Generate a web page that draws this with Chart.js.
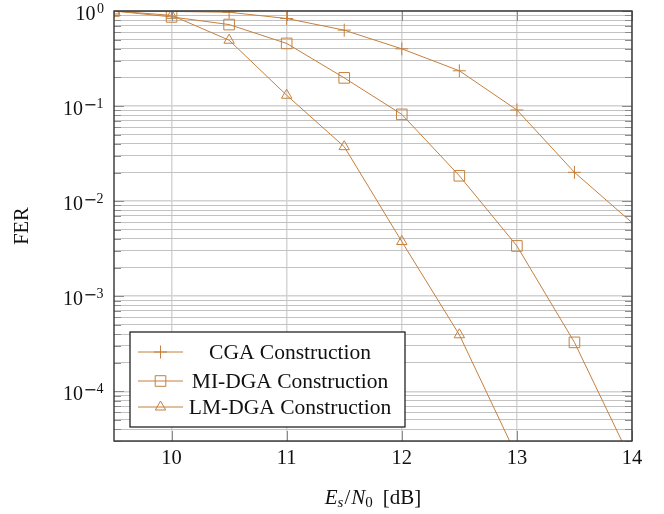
<!DOCTYPE html>
<html><head><meta charset="utf-8">
<script src="https://cdn.jsdelivr.net/npm/chart.js@4/dist/chart.umd.min.js"></script>
<style>html,body{margin:0;padding:0;background:#fff}#wrap{width:664px;height:514px}</style>
</head><body><div id="wrap"><canvas id="c" width="664" height="514"></canvas></div>
<script>
// ---- data ----
const snr = [9.5, 10, 10.5, 11, 11.5, 12, 12.5, 13, 13.5, 14];
const cga = [1.0, 0.99, 0.97, 0.834, 0.629, 0.40, 0.235, 0.091, 0.0201, 0.00594];
const miDga = [1.0, 0.867, 0.72, 0.456, 0.198, 0.0818, 0.0185, 0.00338, 0.000327, 0.000018];
const lmDga = [1.0, 0.90, 0.493, 0.13, 0.0374, 0.00376, 0.000393, 0.0000207];
const seriesLabels = ['CGA Construction', 'MI-DGA Construction', 'LM-DGA Construction'];
const xTicks = [10, 11, 12, 13, 14];
const yDecades = [1, 1e-1, 1e-2, 1e-3, 1e-4];
const yExponents = [0, -1, -2, -3, -4, -5];
const yMantissas = [1, 2, 3, 4, 5, 6, 7, 8, 9];
const yTickBase = '10';
const yTickSign = ['', '\u2212', '\u2212', '\u2212', '\u2212'];
const yTickDigit = ['0', '1', '2', '3', '4'];
const xTitleParts = ['E', 's', '/', 'N', '0', '[dB]'];
const yTitle = 'FER';

const COL = '#c4803e';
const FONT = '"Liberation Serif", "Times New Roman", serif';
const TXT = '#111';
const Y_MIN = 3e-5, Y_MAX = 1;

function pts(ys) { return ys.map((y, i) => ({ x: snr[i], y: y })); }
function isDecade(v) { const l = Math.log10(v); return Math.abs(l - Math.round(l)) < 1e-6; }
function logTicks() {
  const out = [];
  yExponents.forEach(e => yMantissas.forEach(m => {
    const v = m * Math.pow(10, e);
    if (v >= Y_MIN * 0.999 && v <= Y_MAX * 1.001) out.push({ value: v, major: m === 1 });
  }));
  return out.sort((a, b) => a.value - b.value);
}

const frame = {
  id: 'frame',
  afterDatasetsDraw(chart) {
    const { ctx, chartArea: a, scales } = chart;
    const ys = scales.y, xs = scales.x;
    ctx.save();
    ctx.strokeStyle = '#8c8c8c';
    ctx.lineWidth = 1;
    ctx.beginPath();
    ys.ticks.forEach(t => {
      const y = Math.round(ys.getPixelForValue(t.value)) + 0.5;
      const len = isDecade(t.value) ? 10 : 7;
      ctx.moveTo(a.left, y); ctx.lineTo(a.left + len, y);
      ctx.moveTo(a.right, y); ctx.lineTo(a.right - len, y);
    });
    xTicks.forEach(v => {
      const x = Math.round(xs.getPixelForValue(v)) + 0.5;
      ctx.moveTo(x, a.bottom); ctx.lineTo(x, a.bottom - 10);
      ctx.moveTo(x, a.top); ctx.lineTo(x, a.top + 10);
    });
    ctx.stroke();
    ctx.strokeStyle = '#333';
    ctx.lineWidth = 1.4;
    ctx.strokeRect(a.left, a.top, a.right - a.left, a.bottom - a.top);
    ctx.restore();
  },
  afterDraw(chart) {
    const { ctx, chartArea: a, scales } = chart;
    const ys = scales.y;
    ctx.save();
    ctx.fillStyle = TXT;
    const fBase = '20px ' + FONT, fSign = '16px "DejaVu Sans", sans-serif', fDig = '14px ' + FONT;
    yDecades.forEach((v, i) => {
      const y = ys.getPixelForValue(v);
      ctx.font = fDig; const wd = ctx.measureText(yTickDigit[i]).width;
      ctx.font = fSign; const ws = yTickSign[i] ? ctx.measureText(yTickSign[i]).width : 0;
      ctx.font = fBase; const wb = ctx.measureText(yTickBase).width;
      const gap = yTickSign[i] ? 0.5 : 1.5;
      const right = a.left - 10;
      let x = right - wd - ws - wb - gap;
      ctx.textAlign = 'left';
      ctx.textBaseline = 'alphabetic';
      ctx.fillText(yTickBase, x, y + 8.8);
      x += wb + gap;
      if (yTickSign[i]) { ctx.font = fSign; ctx.fillText(yTickSign[i], x, y + 3.5); x += ws - 0.5; }
      ctx.font = fDig;
      ctx.fillText(yTickDigit[i], x, y + 1.7);
    });
    const parts = [
      { t: xTitleParts[0], f: 'italic 21px ' + FONT, dy: 0, gap: 0 },
      { t: xTitleParts[1], f: 'italic 15px ' + FONT, dy: 3, gap: 1 },
      { t: xTitleParts[2], f: '21px ' + FONT, dy: 0, gap: 1 },
      { t: xTitleParts[3], f: 'italic 21px ' + FONT, dy: 0, gap: 0 },
      { t: xTitleParts[4], f: '15px ' + FONT, dy: 3, gap: 10 },
      { t: xTitleParts[5], f: '21px ' + FONT, dy: 0, gap: 0 }
    ];
    let total = 0;
    parts.forEach(p => { ctx.font = p.f; p.w = ctx.measureText(p.t).width; total += p.w + p.gap; });
    let x = (a.left + a.right) / 2 - total / 2;
    const base = 504;
    ctx.textAlign = 'left'; ctx.textBaseline = 'alphabetic';
    parts.forEach(p => { ctx.font = p.f; ctx.fillText(p.t, x, base + p.dy); x += p.w + p.gap; });

    const lx = a.left + 16, lw = 275, lh = 95;
    const ly = a.bottom - 14 - lh;
    ctx.fillStyle = '#fff';
    ctx.fillRect(lx, ly, lw, lh);
    ctx.strokeStyle = '#111';
    ctx.lineWidth = 1.2;
    ctx.strokeRect(lx, ly, lw, lh);
    const rows = [20, 49, 75];
    chart.data.datasets.forEach((ds, i) => {
      const cy = ly + rows[i];
      ctx.strokeStyle = ds.borderColor;
      ctx.lineWidth = 1;
      ctx.beginPath(); ctx.moveTo(lx + 8, cy); ctx.lineTo(lx + 53, cy); ctx.stroke();
      const opts = { pointStyle: ds.pointStyle, radius: ds.pointRadius, rotation: 0, borderWidth: 1 };
      ctx.fillStyle = 'rgba(0,0,0,0)';
      Chart.helpers.drawPoint(ctx, opts, lx + 30.5, cy);
      ctx.fillStyle = TXT;
      ctx.font = '21.5px ' + FONT;
      ctx.textAlign = 'center';
      ctx.textBaseline = 'middle';
      ctx.fillText(ds.label, lx + 160, cy + 1);
    });
    ctx.restore();
  }
};

const common = { borderColor: COL, backgroundColor: 'rgba(0,0,0,0)', pointBorderColor: COL,
  pointBackgroundColor: 'rgba(0,0,0,0)', borderWidth: 1, pointBorderWidth: 1, tension: 0, fill: false };

new Chart(document.getElementById('c'), {
  type: 'line',
  data: {
    datasets: [
      Object.assign({ label: seriesLabels[0], data: pts(cga), pointStyle: 'cross', pointRadius: 6.5 }, common),
      Object.assign({ label: seriesLabels[1], data: pts(miDga), pointStyle: 'rect', pointRadius: 7.5 }, common),
      Object.assign({ label: seriesLabels[2], data: pts(lmDga), pointStyle: 'triangle', pointRadius: 6 }, common)
    ]
  },
  options: {
    responsive: false, animation: false, devicePixelRatio: 1,
    layout: { padding: { left: 0, right: 32, top: 11, bottom: 0 } },
    plugins: { legend: { display: false }, tooltip: { enabled: false } },
    scales: {
      x: {
        type: 'linear', min: 9.5, max: 14,
        afterBuildTicks: s => { s.ticks = xTicks.map(v => ({ value: v })); },
        afterFit: s => { s.height = 73; },
        grid: { color: '#d6d6d6', lineWidth: 1.5, drawTicks: false },
        border: { display: false },
        ticks: { font: { family: FONT, size: 20.5 }, color: TXT, padding: 5, maxRotation: 0, autoSkip: false,
          callback: v => String(v) }
      },
      y: {
        type: 'logarithmic', min: Y_MIN, max: Y_MAX,
        afterBuildTicks: s => { s.ticks = logTicks(); },
        afterFit: s => { s.width = 114; },
        grid: {
          drawTicks: false,
          color: c => (c.tick && isDecade(c.tick.value)) ? '#d2d2d2' : '#c2c2c2',
          lineWidth: c => (c.tick && isDecade(c.tick.value)) ? 1.5 : 1
        },
        border: { display: false },
        ticks: { display: false, autoSkip: false },
        title: { display: true, text: yTitle, font: { family: FONT, size: 20.5 }, color: TXT, padding: { top: 10, bottom: 0 } }
      }
    }
  },
  plugins: [frame]
});
</script>
</body></html>
